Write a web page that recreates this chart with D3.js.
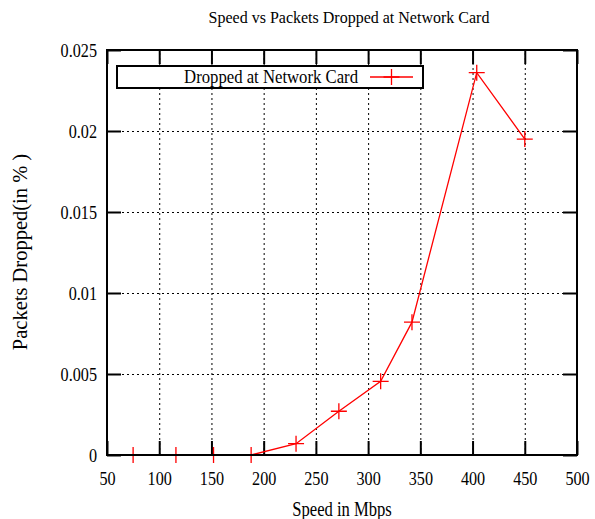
<!DOCTYPE html>
<html>
<head>
<meta charset="UTF-8">
<title>Speed vs Packets Dropped at Network Card</title>
<script src="https://cdn.jsdelivr.net/npm/d3@7"></script>
<style>
  body { margin: 0; background: #fff; }
  svg { display: block; }
  svg text { font-family: "Liberation Serif", "Times New Roman", serif !important; fill: #000; }
  .grid line { stroke: #000; stroke-width: 1; stroke-dasharray: 2,3; }
  .grid path { display: none; }
  .axis path { display: none; }
  .axis line { stroke: #000; stroke-width: 2; }
  .axis text { font-size: 19.5px; }
</style>
</head>
<body>
<svg width="595" height="519"></svg>
<script>
// data
var speeds  = [75, 116, 152, 188, 231, 272, 312, 342, 404, 450];
var dropped = [0, 0, 0, 0, 0.0007, 0.0027, 0.00455, 0.0082, 0.0236, 0.0195];
var xTicks = [50, 100, 150, 200, 250, 300, 350, 400, 450, 500];
var yTicks = [0, 0.005, 0.01, 0.015, 0.02, 0.025];
var yTickLabels = ["0", "0.005", "0.01", "0.015", "0.02", "0.025"];
var seriesName = "Dropped at Network Card";

var svg = d3.select("svg");
var margin = {left: 107, top: 50, right: 18, bottom: 64};
var width = 595 - margin.left - margin.right,
    height = 519 - margin.top - margin.bottom;
var squeeze = 0.83;

var x = d3.scaleLinear().domain([50, 500]).range([0, width]);
var y = d3.scaleLinear().domain([0, 0.025]).range([height, 0]);

var g = svg.append("g").attr("transform", "translate(" + margin.left + "," + margin.top + ")");

// dotted grid
g.append("g").attr("class", "grid")
    .attr("transform", "translate(0," + height + ")")
    .call(d3.axisBottom(x).tickValues(xTicks).tickSize(-height).tickFormat(""));
g.append("g").attr("class", "grid")
    .call(d3.axisLeft(y).tickValues(yTicks).tickSize(-width).tickFormat(""));

// ticks (inward, mirrored)
var xAxis = g.append("g").attr("class", "axis")
    .attr("transform", "translate(0," + height + ")")
    .call(d3.axisBottom(x).tickValues(xTicks).tickSize(-14).tickPadding(0).tickFormat(d3.format("d")));
xAxis.attr("font-family", null);
xAxis.selectAll("text")
    .attr("y", 30).attr("dy", 0)
    .attr("transform", "scale(" + squeeze + ",1)");

var yAxis = g.append("g").attr("class", "axis")
    .call(d3.axisLeft(y).tickValues(yTicks).tickSize(-14).tickPadding(0)
        .tickFormat(function (d, i) { return yTickLabels[i]; }));
yAxis.attr("font-family", null);
yAxis.selectAll("text")
    .attr("x", -10 / squeeze).attr("dy", "0.33em")
    .attr("transform", "scale(" + squeeze + ",1)");

g.append("g").attr("class", "axis")
    .call(d3.axisTop(x).tickValues(xTicks).tickSize(-14).tickFormat(""));
g.append("g").attr("class", "axis")
    .attr("transform", "translate(" + width + ",0)")
    .call(d3.axisRight(y).tickValues(yTicks).tickSize(-14).tickFormat(""));

// frame
g.append("rect")
    .attr("width", width).attr("height", height)
    .attr("fill", "none").attr("stroke", "#000").attr("stroke-width", 2);

// legend
var leg = g.append("g").attr("transform", "translate(10,16)");
leg.append("rect")
    .attr("width", 306).attr("height", 22)
    .attr("fill", "#fff").attr("stroke", "#000").attr("stroke-width", 2);
leg.append("text")
    .attr("transform", "translate(241,17) scale(0.88,1)")
    .attr("text-anchor", "end")
    .attr("font-size", "19px")
    .text(seriesName);
leg.append("line")
    .attr("x1", 253).attr("x2", 296).attr("y1", 11).attr("y2", 11)
    .attr("stroke", "red").attr("stroke-width", 1.3);
leg.append("path")
    .attr("d", "M" + (274.5 - 8) + ",11h16M274.5," + (11 - 8) + "v16")
    .attr("stroke", "red").attr("stroke-width", 1.3);

// series line and markers
var pts = speeds.map(function (s, i) { return [s, dropped[i]]; });
g.append("path")
    .datum(pts)
    .attr("fill", "none").attr("stroke", "red").attr("stroke-width", 1.3)
    .attr("d", d3.line().x(function (d) { return x(d[0]); }).y(function (d) { return y(d[1]); }));

g.selectAll(".pt")
    .data(pts)
    .enter().append("path")
    .attr("class", "pt")
    .attr("stroke", "red").attr("stroke-width", 1.3)
    .attr("d", function (d) {
        var px = x(d[0]), py = y(d[1]);
        return "M" + (px - 8) + "," + py + "h16M" + px + "," + (py - 8) + "v16";
    });

// bottom border drawn again over the zero-level segment of the line
g.append("line")
    .attr("x1", 0).attr("x2", width).attr("y1", height).attr("y2", height)
    .attr("stroke", "#000").attr("stroke-width", 2);

// titles
svg.append("text")
    .attr("x", 349).attr("y", 23)
    .attr("text-anchor", "middle")
    .attr("font-size", "16px")
    .text("Speed vs Packets Dropped at Network Card");

svg.append("text")
    .attr("transform", "translate(342,516) scale(0.83,1)")
    .attr("text-anchor", "middle")
    .attr("font-size", "20px")
    .text("Speed in Mbps");

svg.append("text")
    .attr("transform", "translate(27,252) rotate(-90)")
    .attr("text-anchor", "middle")
    .attr("font-size", "20.5px")
    .text("Packets Dropped(in % )");
</script>
</body>
</html>
